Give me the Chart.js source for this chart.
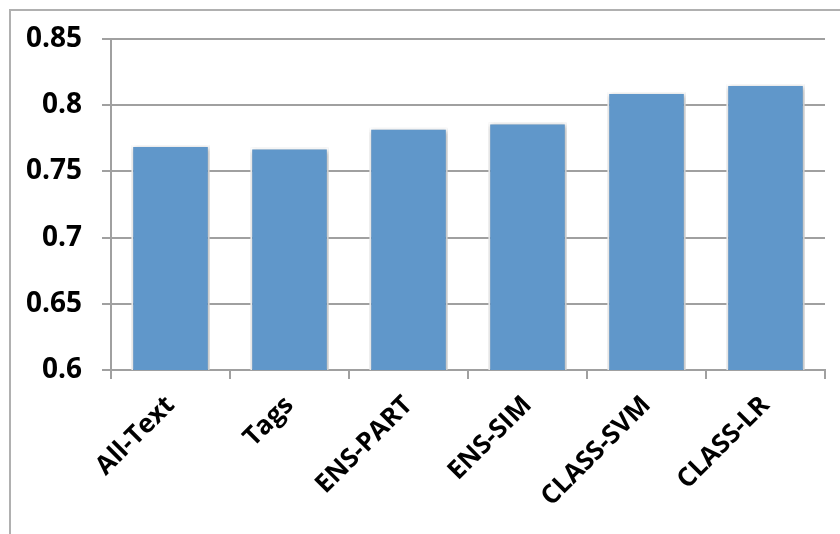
<!DOCTYPE html>
<html>
<head>
<meta charset="utf-8">
<script src="https://cdn.jsdelivr.net/npm/chart.js@4"></script>
<style>
  html, body { margin: 0; padding: 0; background: #fff; }
  #wrap { position: relative; width: 840px; height: 534px; }
  #frame { position: absolute; left: 9px; top: 9px; width: 840px; height: 540px; border: 2px solid #b0b0b0; box-sizing: border-box; }
  canvas { position: absolute; left: 0; top: 0; }
</style>
</head>
<body>
<div id="wrap">
  <div id="frame"></div>
  <canvas id="chart" width="840" height="534"></canvas>
</div>
<script>
const categories = ["All-Text", "Tags", "ENS-PART", "ENS-SIM", "CLASS-SVM", "CLASS-LR"];
const scores = [0.770, 0.768, 0.783, 0.787, 0.810, 0.816];
const yTicks = [0.6, 0.65, 0.7, 0.75, 0.8, 0.85];

const barShadow = {
  id: "barShadow",
  beforeDatasetsDraw(chart) {
    const ctx = chart.ctx;
    ctx.save();
    ctx.shadowColor = "rgba(0, 0, 0, 0.35)";
    ctx.shadowBlur = 5;
    ctx.shadowOffsetX = 1;
    ctx.shadowOffsetY = 1;
  },
  afterDatasetsDraw(chart) {
    chart.ctx.restore();
  }
};

const ctx = document.getElementById("chart").getContext("2d");
new Chart(ctx, {
  type: "bar",
  data: {
    labels: categories,
    datasets: [{
      data: scores,
      backgroundColor: "#6097ca",
      borderColor: "#ffffff",
      borderWidth: 2,
      categoryPercentage: 1,
      barPercentage: 0.66
    }]
  },
  options: {
    responsive: false,
    animation: false,
    layout: { padding: { top: 39, right: 15, left: 0, bottom: 0 } },
    plugins: { legend: { display: false }, tooltip: { enabled: false } },
    scales: {
      x: {
        grid: { display: true, drawOnChartArea: false, offset: true, color: "#a0a0a0", lineWidth: 2, tickLength: 9 },
        border: { color: "#a0a0a0", width: 2 },
        ticks: {
          color: "#000",
          font: { family: "'Open Sans', 'Liberation Sans', sans-serif", size: 26, weight: "bold" },
          minRotation: 45,
          maxRotation: 45,
          padding: 11
        },
        afterFit(scale) { scale.height = 164; }
      },
      y: {
        min: 0.6,
        max: 0.85,
        afterBuildTicks(scale) { scale.ticks = yTicks.map(v => ({ value: v })); },
        grid: { color: "#a0a0a0", lineWidth: 2, tickLength: 9 },
        border: { color: "#a0a0a0", width: 2 },
        ticks: {
          color: "#000",
          font: { family: "'Open Sans', 'Liberation Sans', sans-serif", size: 28, weight: "bold" },
          padding: 20,
          callback: v => String(Math.round(v * 100) / 100)
        },
        afterFit(scale) { scale.width = 111; }
      }
    }
  },
  plugins: [barShadow]
});
</script>
</body>
</html>
